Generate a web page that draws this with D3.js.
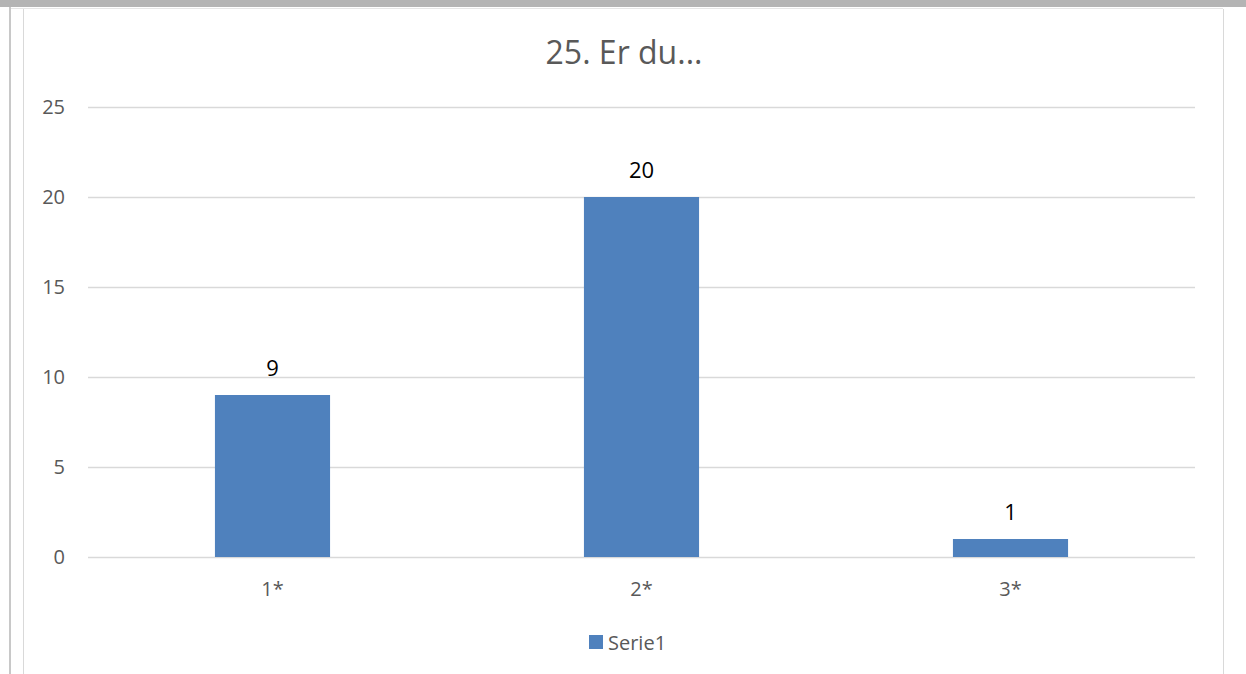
<!DOCTYPE html>
<html>
<head>
<meta charset="utf-8">
<script src="https://cdn.jsdelivr.net/npm/d3@7"></script>
<style>
  html, body { margin: 0; padding: 0; background: #fff; }
  svg { display: block; font-family: "Open Sans", sans-serif; }
</style>
</head>
<body>
<div id="chart"></div>
<script>
const categories = ["1*", "2*", "3*"];
const values = [9, 20, 1];
const yTicks = [0, 5, 10, 15, 20, 25];
const seriesName = "Serie1";
const title = "25. Er du...";

const width = 1246, height = 674;
const margin = { top: 107, right: 51, bottom: 117, left: 88 };

const svg = d3.select("#chart")
    .append("svg")
    .attr("width", width)
    .attr("height", height);

// frame around the chart (page background pieces)
svg.append("rect").attr("x", 0).attr("y", 0).attr("width", width).attr("height", 7).attr("fill", "#b4b4b4");
svg.append("line").attr("x1", 10).attr("x2", 1223).attr("y1", 8.5).attr("y2", 8.5).attr("stroke", "#e6e6e6");
svg.append("line").attr("x1", 10).attr("x2", 10).attr("y1", 7).attr("y2", height).attr("stroke", "#c8c8c8").attr("stroke-width", 2);
svg.append("line").attr("x1", 23.5).attr("x2", 23.5).attr("y1", 9).attr("y2", height).attr("stroke", "#d9d9d9");
svg.append("line").attr("x1", 1223.5).attr("x2", 1223.5).attr("y1", 9).attr("y2", height).attr("stroke", "#d9d9d9");

const x = d3.scaleBand()
    .domain(categories)
    .range([margin.left, width - margin.right])
    .padding(0);

const y = d3.scaleLinear()
    .domain([0, 25])
    .range([height - margin.bottom, margin.top]);

const barWidth = x.bandwidth() * 0.312;

// gridlines
svg.append("g")
    .selectAll("line")
    .data(yTicks)
    .join("line")
    .attr("x1", margin.left)
    .attr("x2", width - margin.right)
    .attr("y1", d => Math.round(y(d)) + 0.5)
    .attr("y2", d => Math.round(y(d)) + 0.5)
    .attr("stroke", "#d9d9d9")
    .attr("stroke-width", 1.5);

// y-axis labels
svg.append("g")
    .selectAll("text")
    .data(yTicks)
    .join("text")
    .attr("x", 65)
    .attr("y", d => y(d))
    .attr("dy", "0.35em")
    .attr("text-anchor", "end")
    .style("font-size", "20px")
    .style("fill", "#595959")
    .text(d => d);

// bars
svg.append("g")
    .selectAll("rect")
    .data(values)
    .join("rect")
    .attr("x", (d, i) => x(categories[i]) + (x.bandwidth() - barWidth) / 2)
    .attr("y", d => y(d))
    .attr("width", barWidth)
    .attr("height", d => y(0) - y(d))
    .attr("fill", "#4f81bd");

// data labels
svg.append("g")
    .selectAll("text")
    .data(values)
    .join("text")
    .attr("x", (d, i) => x(categories[i]) + x.bandwidth() / 2)
    .attr("y", d => y(d) - 19)
    .attr("text-anchor", "middle")
    .style("font-size", "22px")
    .style("fill", "#000")
    .text(d => d);

// x-axis labels
svg.append("g")
    .selectAll("text")
    .data(categories)
    .join("text")
    .attr("x", d => x(d) + x.bandwidth() / 2)
    .attr("y", y(0) + 39)
    .attr("text-anchor", "middle")
    .style("font-size", "20px")
    .style("fill", "#595959")
    .text(d => d);

// title
svg.append("text")
    .attr("x", 624)
    .attr("y", 64)
    .attr("text-anchor", "middle")
    .style("font-size", "32px")
    .style("fill", "#595959")
    .text(title);

// legend
const legend = svg.append("g").attr("transform", "translate(589,635)");
legend.append("rect").attr("width", 14).attr("height", 14).attr("fill", "#4f81bd");
legend.append("text")
    .attr("x", 19)
    .attr("y", 15)
    .style("font-size", "20px")
    .style("fill", "#595959")
    .text(seriesName);
</script>
</body>
</html>
